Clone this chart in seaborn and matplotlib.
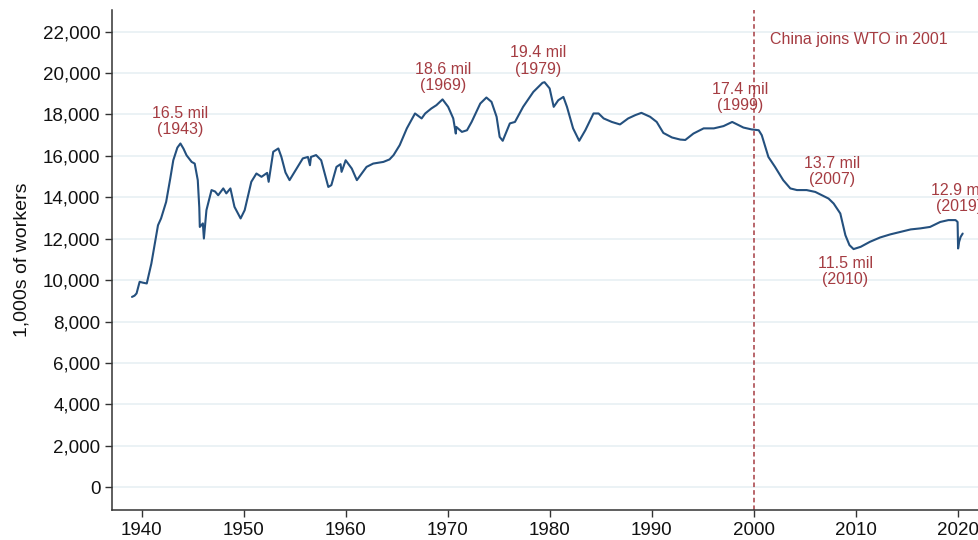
import matplotlib
matplotlib.use("Agg")
import matplotlib.pyplot as plt
import pandas as pd
import seaborn as sns
from matplotlib.ticker import FuncFormatter

# Manufacturing employment (1,000s of workers)
years = [
    1939.05, 1939.3, 1939.5, 1939.8, 1940.1, 1940.5, 1940.95, 1941.3, 1941.6, 1941.9,
    1942.4, 1942.8, 1943.1, 1943.5, 1943.8, 1944.1, 1944.4, 1944.9, 1945.2, 1945.5,
    1945.65, 1945.7, 1946.0, 1946.1, 1946.35, 1946.85, 1947.2, 1947.5, 1948.0, 1948.3,
    1948.7, 1949.1, 1949.7, 1950.1, 1950.75, 1951.25, 1951.75, 1952.3, 1952.45, 1952.9,
    1953.4, 1953.7, 1954.1, 1954.5, 1955.2, 1955.8, 1956.3, 1956.5, 1956.6, 1957.1,
    1957.6, 1958.3, 1958.6, 1959.1, 1959.5, 1959.6, 1959.8, 1960.0, 1960.6, 1961.1,
    1961.5, 1962.05, 1962.7, 1963.7, 1964.3, 1964.7, 1965.3, 1966.0, 1966.8, 1967.45,
    1967.8, 1968.4, 1968.9, 1969.5, 1970.05, 1970.55, 1970.8, 1970.85, 1971.4, 1971.9,
    1972.35, 1973.2, 1973.8, 1974.3, 1974.8, 1975.1, 1975.4, 1976.1, 1976.6, 1977.4,
    1978.4, 1979.3, 1979.5, 1980.0, 1980.4, 1980.85, 1981.35, 1981.7, 1982.3, 1982.9,
    1983.5, 1984.3, 1984.8, 1985.3, 1986.1, 1986.9, 1987.7, 1988.4, 1989.0, 1989.85,
    1990.5, 1991.15, 1992.0, 1992.8, 1993.3, 1994.1, 1995.1, 1996.1, 1997.05, 1997.9,
    1998.35, 1999.0, 1999.8, 2000.5, 2000.8, 2001.45, 2002.1, 2002.9, 2003.6, 2004.25,
    2005.2, 2006.05, 2006.7, 2007.35, 2007.85, 2008.5, 2009.0, 2009.4, 2009.8, 2010.5,
    2011.4, 2012.4, 2013.4, 2014.4, 2015.4, 2016.35, 2017.3, 2018.3, 2019.1, 2019.8,
    2020.0, 2020.05, 2020.15, 2020.3, 2020.5,
]
workers = [
    9190, 9250, 9360, 9920, 9880, 9840, 10800, 11800, 12650, 12980,
    13780, 14900, 15790, 16400, 16600, 16350, 16030, 15710, 15630, 14830,
    13500, 12570, 12740, 12010, 13380, 14350, 14280, 14100, 14430, 14190,
    14430, 13540, 12980, 13380, 14750, 15150, 14990, 15180, 14750, 16200,
    16360, 15950, 15200, 14830, 15390, 15880, 15950, 15550, 15950, 16040,
    15790, 14500, 14590, 15470, 15600, 15230, 15500, 15790, 15390, 14830,
    15100, 15470, 15630, 15710, 15830, 16040, 16520, 17330, 18050, 17810,
    18050, 18290, 18450, 18730, 18370, 17810, 17080, 17400, 17160, 17240,
    17640, 18530, 18820, 18610, 17890, 16920, 16730, 17570, 17640, 18370,
    19090, 19530, 19560, 19260, 18370, 18690, 18850, 18370, 17330, 16730,
    17240, 18050, 18050, 17810, 17640, 17520, 17810, 17970, 18080, 17890,
    17640, 17110, 16890, 16790, 16770, 17080, 17330, 17330, 17440, 17640,
    17530, 17370, 17280, 17240, 17000, 15950, 15470, 14830, 14430, 14350,
    14350, 14260, 14100, 13940, 13700, 13220, 12170, 11690, 11500, 11610,
    11850, 12060, 12210, 12330, 12450, 12500, 12570, 12810, 12900, 12900,
    12810, 11530, 11850, 12090, 12250,
]

# Peak / trough annotations
ann_x = [1943.8, 1969.6, 1978.9, 1998.7, 2007.7, 2009.0, 2020.1]
ann_y = [17680, 19800, 20580, 18840, 15260, 10430, 13960]
ann_text = ["16.5 mil\n(1943)", "18.6 mil\n(1969)", "19.4 mil\n(1979)", "17.4 mil\n(1999)",
            "13.7 mil\n(2007)", "11.5 mil\n(2010)", "12.9 mil\n(2019)"]

wto_year = 2000
wto_label = "China joins WTO in 2001"

y_ticks = list(range(0, 22001, 2000))
x_ticks = list(range(1940, 2021, 10))

line_color = "#24507e"
red = "#a53c42"

sns.set_style("white")
plt.rcParams["font.family"] = ["Liberation Sans", "DejaVu Sans"]

df = pd.DataFrame({"year": years, "workers": workers})

fig = plt.figure(figsize=(9.79, 5.40), dpi=100)
ax = fig.add_axes([0.1145, 0.0556, 0.8855, 0.926])

for yt in y_ticks:
    ax.axhline(yt, color="#e6eff2", lw=1.1, zorder=0)

sns.lineplot(data=df, x="year", y="workers", ax=ax, color=line_color, lw=1.5, zorder=3)

ax.axvline(wto_year, color=red, lw=1.1, ls=(0, (3, 2)), zorder=2)
ax.text(2001.6, 21600, wto_label, color=red, fontsize=11.5, ha="left", va="center")

for x, y, t in zip(ann_x, ann_y, ann_text):
    ax.text(x, y, t, color=red, fontsize=11.5, ha="center", va="center",
            linespacing=1.1)

ax.set_xlim(1937.1, 2022.1)
ax.set_ylim(-1100, 23050)
ax.set_xticks(x_ticks)
ax.set_yticks(y_ticks)
ax.yaxis.set_major_formatter(FuncFormatter(lambda v, p: f"{int(v):,}"))
ax.tick_params(axis="both", direction="out", length=5, width=1, color="#333333",
               labelsize=13.5, labelcolor="#111111", left=True, bottom=True)
ax.set_xlabel("")
ax.set_ylabel("1,000s of workers", fontsize=14, color="#111111", labelpad=9)

sns.despine(ax=ax)
for side in ["left", "bottom"]:
    ax.spines[side].set_color("#333333")
    ax.spines[side].set_linewidth(1.1)

fig.savefig("out.png", dpi=100)
